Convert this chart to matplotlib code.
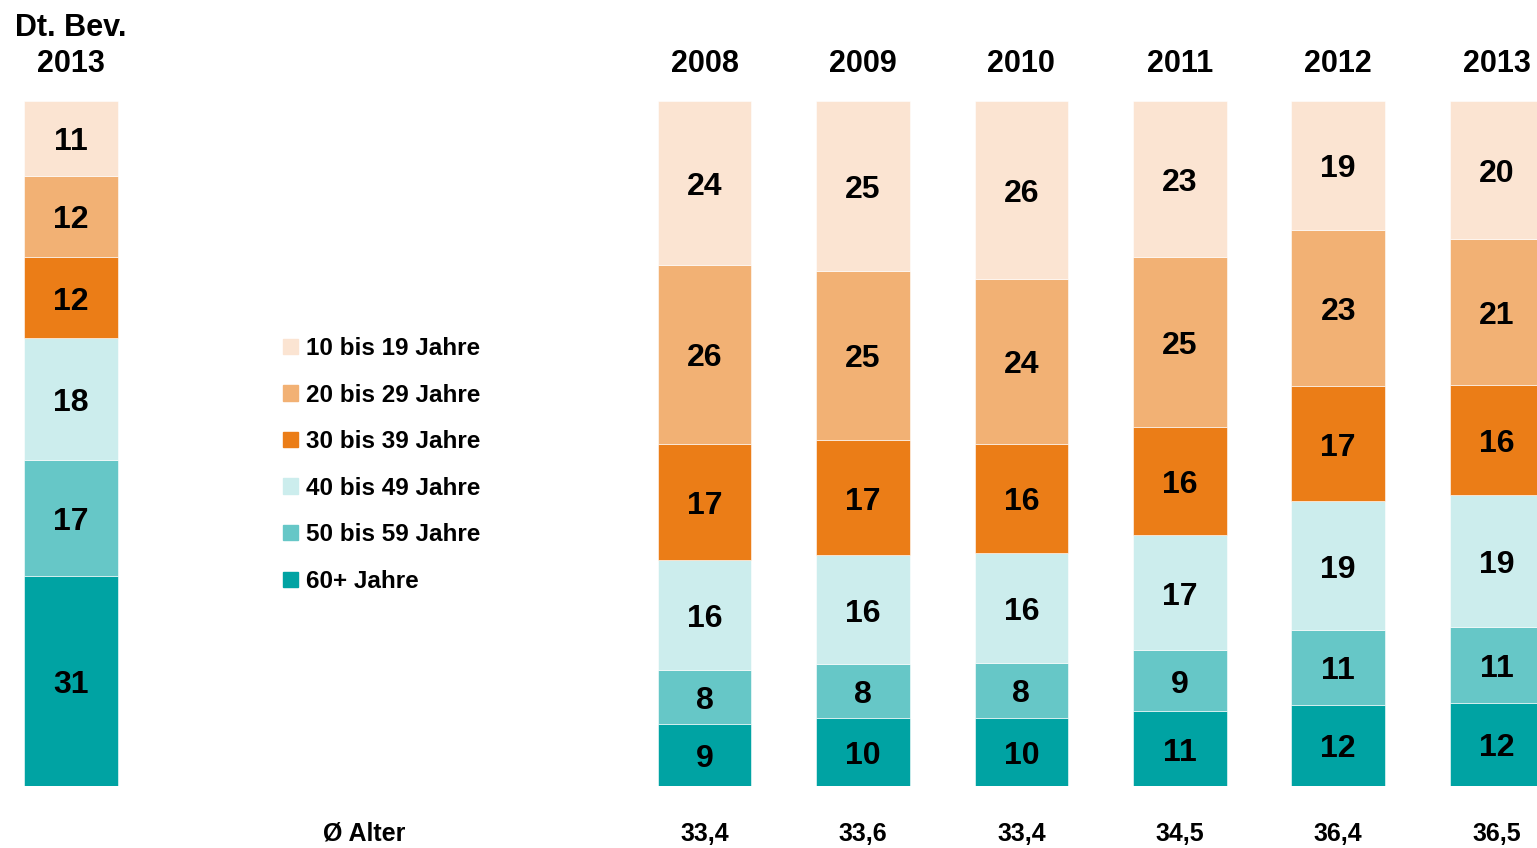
import numpy as np
import matplotlib.pyplot as plt
from matplotlib.patches import Patch
from matplotlib.transforms import offset_copy

plt.rcParams['font.family'] = ['Liberation Sans', 'DejaVu Sans']
plt.rcParams['font.weight'] = 'bold'

# data: shares in percent, bottom to top (60+ first)
groups = ["60+ Jahre", "50 bis 59 Jahre", "40 bis 49 Jahre",
          "30 bis 39 Jahre", "20 bis 29 Jahre", "10 bis 19 Jahre"]
bar_labels = ["2013", "2008", "2009", "2010", "2011", "2012", "2013"]
values = {
    "60+ Jahre":       [31, 9, 10, 10, 11, 12, 12],
    "50 bis 59 Jahre": [17, 8, 8, 8, 9, 11, 11],
    "40 bis 49 Jahre": [18, 16, 16, 16, 17, 19, 19],
    "30 bis 39 Jahre": [12, 17, 17, 16, 16, 17, 16],
    "20 bis 29 Jahre": [12, 26, 25, 24, 25, 23, 21],
    "10 bis 19 Jahre": [11, 24, 25, 26, 23, 19, 20],
}
avg_age = ["", "33,4", "33,6", "33,4", "34,5", "36,4", "36,5"]

colors = {
    "60+ Jahre":       "#00A3A3",
    "50 bis 59 Jahre": "#66C7C7",
    "40 bis 49 Jahre": "#CCEDED",
    "30 bis 39 Jahre": "#EB7D17",
    "20 bis 29 Jahre": "#F2B174",
    "10 bis 19 Jahre": "#FBE4D2",
}

x = np.array([0, 4, 5, 6, 7, 8, 9])
width = 0.59

fig = plt.figure(figsize=(15.37, 8.48), dpi=100)
ax = fig.add_axes([0, 62 / 848, 1, 685 / 848])
ax.set_xlim(-0.448, 9.255)
ax.set_ylim(0, 100)
ax.axis('off')

# labels sit a little below the segment centre in the original
lab_tr = offset_copy(ax.transData, fig=fig, y=-4, units='dots')

# normalise every bar to 100 so all reach the top
data = np.array([values[g] for g in groups], dtype=float)
data = data / data.sum(axis=0) * 100
bottom = np.zeros(len(x))
for i, g in enumerate(groups):
    ax.bar(x, data[i], width, bottom=bottom, color=colors[g],
           edgecolor='white', linewidth=0.4)
    for xi, b, h, v in zip(x, bottom, data[i], values[g]):
        ax.text(xi, b + h / 2, str(v), ha='center', va='center',
                fontsize=23, fontweight='bold', transform=lab_tr)
    bottom += data[i]

# column headers
xt = ax.get_xaxis_transform()
for xi, lab in zip(x, bar_labels):
    ax.text(xi, 1.054, lab, transform=xt, ha='center', va='center',
            fontsize=22, fontweight='bold')
ax.text(x[0], 1.106, "Dt. Bev.", transform=xt, ha='center', va='center',
        fontsize=22, fontweight='bold')

# average age row
ax.text(1.85, -0.07, "\u00d8 Alter", transform=xt,
        ha='center', va='center', fontsize=18, fontweight='bold')
for xi, a in zip(x, avg_age):
    if a:
        ax.text(xi, -0.07, a, transform=xt,
                ha='center', va='center', fontsize=18, fontweight='bold')

handles = [Patch(color=colors[g], label=g) for g in groups[::-1]]
fig.legend(handles=handles, loc='upper left',
           bbox_to_anchor=(283 / 1537, 1 - 337 / 848),
           bbox_transform=fig.transFigure, frameon=False,
           prop={'size': 17.5, 'weight': 'bold'},
           handlelength=0.6, handleheight=0.6,
           handletextpad=0.35, labelspacing=0.97, borderpad=0,
           borderaxespad=0)

fig.savefig("out.png", dpi=100)
